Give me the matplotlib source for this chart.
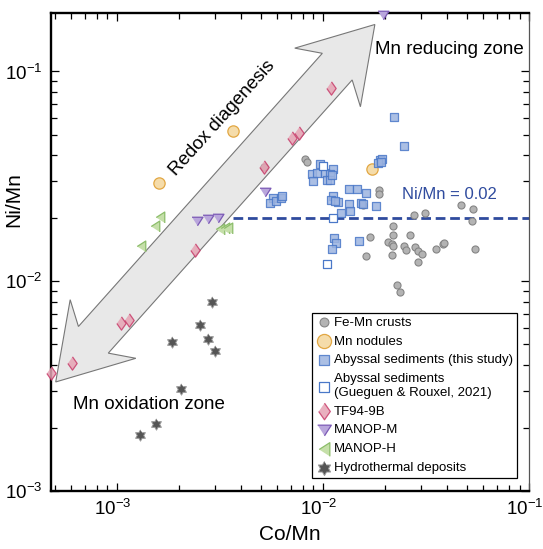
"""Ni/Mn vs Co/Mn cross-plot with redox diagenesis arrow"""

import matplotlib

matplotlib.use("Agg")
import matplotlib.pyplot as plt
import numpy as np
from matplotlib.patches import Polygon
from matplotlib.transforms import ScaledTranslation

plt.rcParams["font.family"] = ["Liberation Sans", "DejaVu Sans"]
plt.rcParams["mathtext.fontset"] = "custom"
plt.rcParams["mathtext.rm"] = "Liberation Sans"
plt.rcParams["axes.unicode_minus"] = False

# Fe-Mn crusts
crust_co = [0.00818, 0.00834, 0.01877, 0.01877, 0.01569, 0.02764, 0.03117, 0.04676,
            0.05328, 0.05268, 0.02194, 0.02194, 0.01691, 0.02644, 0.02075, 0.02156,
            0.02180, 0.02171, 0.01617, 0.02472, 0.02520, 0.02796, 0.02901, 0.03025,
            0.02882, 0.03536, 0.03813, 0.03869, 0.05467, 0.02279, 0.02364, 0.00517]
crust_ni = [0.0384, 0.0370, 0.0271, 0.0260, 0.0232, 0.0208, 0.0211, 0.0232,
            0.0220, 0.0194, 0.0183, 0.0166, 0.0163, 0.0166, 0.0154, 0.0151,
            0.0148, 0.0134, 0.0132, 0.0147, 0.0141, 0.0146, 0.0139, 0.0135,
            0.0123, 0.0142, 0.0150, 0.0152, 0.0142, 0.0096, 0.0089, 0.0350]

# Mn nodules
nodule_co = [0.003645, 0.00160, 0.01729]
nodule_ni = [0.0520, 0.0295, 0.0343]

# Abyssal sediments (this study)
sed_co = [0.02219, 0.02481, 0.01891, 0.01928, 0.01855, 0.01912, 0.00967, 0.01122,
          0.00887, 0.00932, 0.00897, 0.01023, 0.01081, 0.01042, 0.01081, 0.01102,
          0.005738, 0.00553, 0.005894, 0.006253, 0.006302, 0.01342, 0.01467, 0.01617,
          0.01122, 0.01093, 0.01179, 0.01144, 0.01337, 0.01529, 0.01569, 0.01802,
          0.01223, 0.01352, 0.01131, 0.01160, 0.01102, 0.01495]
sed_ni = [0.0606, 0.0440, 0.0377, 0.0384, 0.0366, 0.0370, 0.0361, 0.0344,
          0.0326, 0.0328, 0.0300, 0.0328, 0.0326, 0.0303, 0.0305, 0.0320,
          0.0248, 0.0236, 0.0241, 0.0250, 0.0254, 0.0276, 0.0276, 0.0262,
          0.0254, 0.0243, 0.0239, 0.0241, 0.0233, 0.0236, 0.0233, 0.0229,
          0.0211, 0.0216, 0.0160, 0.0152, 0.0143, 0.0156]

# Abyssal sediments (Gueguen & Rouxel, 2021)
gr_co = [0.01003, 0.01122, 0.01042]
gr_ni = [0.0353, 0.0200, 0.0121]

# TF94-9B
tf_co = [0.01093, 0.00705, 0.00767, 0.00517, 0.002391, 0.001054, 0.001147, 0.00061, 0.000478]
tf_ni = [0.0836, 0.0481, 0.0508, 0.0350, 0.01405, 0.00629, 0.00657, 0.00406, 0.00366]

# MANOP-M
manm_co = [0.01956, 0.005231, 0.002464, 0.002774, 0.003102]
manm_ni = [0.185, 0.0266, 0.0193, 0.0197, 0.0200]

# MANOP-H
manh_co = [0.00163, 0.001529, 0.003162, 0.003344, 0.00347, 0.001318]
manh_ni = [0.0202, 0.0183, 0.0178, 0.0180, 0.0180, 0.0148]

# Hydrothermal deposits
hyd_co = [0.002891, 0.002529, 0.002774, 0.0030, 0.001856, 0.002052, 0.001546, 0.001297]
hyd_ni = [0.00797, 0.00619, 0.00528, 0.00466, 0.00512, 0.00307, 0.00209, 0.00184]

# reference line and arrow end points (Co/Mn, Ni/Mn)
ni_mn_ref = 0.02
ref_start = 0.00365
arrow_low = (5.06e-4, 3.31e-3)
arrow_high = (0.01788, 0.1675)

# marker shapes
diamond = [(0, 1), (0.7, 0), (0, -1), (-0.7, 0)]
tri_down = [(-1, 0.78), (1, 0.78), (0, -0.78)]
tri_left = [(-0.78, 0), (0.78, 1), (0.78, -1)]
ang = np.deg2rad(90 + 30 * np.arange(12))
rad = np.where(np.arange(12) % 2 == 0, 1.0, 0.577)
hexagram = list(zip(rad * np.cos(ang), rad * np.sin(ang)))

fig = plt.figure(figsize=(5.43, 5.49), dpi=100)
ax = fig.add_axes([51 / 543, 58 / 549, 478 / 543, 478 / 549])
ax.set_xscale("log")
ax.set_yscale("log")
ax.set_xlim(4.8e-4, 0.1)
ax.set_ylim(1e-3, 0.19)


def double_arrow(ax, start, end, shaft_w, head_w, head_len, notch_len):
    # two-headed block arrow with swept-back barbs, sizes in pixels
    p0 = ax.transData.transform(start)
    p1 = ax.transData.transform(end)
    u = (p1 - p0) / np.hypot(*(p1 - p0))
    n = np.array([-u[1], u[0]])
    pts = [
        p0,
        p0 + u * head_len + n * head_w / 2,
        p0 + u * notch_len + n * shaft_w / 2,
        p1 - u * notch_len + n * shaft_w / 2,
        p1 - u * head_len + n * head_w / 2,
        p1,
        p1 - u * head_len - n * head_w / 2,
        p1 - u * notch_len - n * shaft_w / 2,
        p0 + u * notch_len - n * shaft_w / 2,
        p0 + u * head_len - n * head_w / 2,
    ]
    pts = ax.transAxes.inverted().transform(np.array(pts))
    ax.add_patch(Polygon(pts, closed=True, transform=ax.transAxes, fc="#e8e8e8",
                         ec="#777777", lw=0.8, zorder=1, clip_on=False))


double_arrow(ax, arrow_low, arrow_high, 40, 88, 71, 56.5)

ax.plot([ref_start, 0.1], [ni_mn_ref, ni_mn_ref], color="#2f4b9e", lw=2,
        ls=(0, (3.5, 1.7)), zorder=2)

kw = dict(clip_on=False, zorder=3)
ax.scatter(crust_co, crust_ni, s=26, marker="o", fc="#b3b3b3", ec="#858585", lw=0.8,
           label="Fe-Mn crusts", **kw)
ax.scatter(nodule_co, nodule_ni, s=66, marker="o", fc="#f5dcaa", ec="#e2a743", lw=0.9,
           label="Mn nodules", **kw)
ax.scatter(sed_co, sed_ni, s=34, marker="s", fc="#9db4e0", ec="#4a78c8", lw=0.9,
           alpha=0.85, label="Abyssal sediments (this study)", **kw)
ax.scatter(gr_co, gr_ni, s=34, marker="s", fc="white", ec="#4a78c8", lw=0.9,
           label="Abyssal sediments\n(Gueguen & Rouxel, 2021)", **kw)
ax.scatter(tf_co, tf_ni, s=92, marker=diamond, fc="#e6a3b4", ec="#c83d6b", lw=0.9,
           alpha=0.85, label="TF94-9B", **kw)
ax.scatter(manm_co, manm_ni, s=62, marker=tri_down, fc="#b9a6dc", ec="#7b59b5", lw=0.9,
           label="MANOP-M", **kw)
ax.scatter(manh_co, manh_ni, s=62, marker=tri_left, fc="#c5dfa9", ec="#8cbd6a", lw=0.9,
           label="MANOP-H", **kw)
ax.scatter(hyd_co, hyd_ni, s=66, marker=hexagram, fc="#555555", ec="#9a9a9a", lw=0.7,
           label="Hydrothermal deposits", **kw)

ax.text(0.358, 0.780, "Redox diagenesis", transform=ax.transAxes, fontsize=13.5,
        rotation=48, rotation_mode="anchor", ha="center", va="center")
ax.text(0.678, 0.923, "Mn reducing zone", transform=ax.transAxes, fontsize=13.5,
        ha="left", va="center")
ax.text(0.047, 0.182, "Mn oxidation zone", transform=ax.transAxes, fontsize=13.5,
        ha="left", va="center")
ax.text(0.734, 0.621, "Ni/Mn = 0.02", transform=ax.transAxes, fontsize=12,
        color="#2f4b9e", ha="left", va="center")

ax.set_xlabel("Co/Mn", fontsize=15)
ax.set_ylabel("Ni/Mn", fontsize=15)
ax.xaxis.set_label_coords(0.5, -0.071)
ax.yaxis.set_label_coords(-0.059, 0.609)

ax.tick_params(which="both", direction="in", top=True, right=True, width=0.9)
ax.tick_params(which="major", length=6, labelsize=13.5, pad=6)
ax.tick_params(which="minor", length=4)
for side in ["left", "bottom", "top"]:
    ax.spines[side].set_linewidth(1.7)
ax.spines["right"].set_linewidth(0.9)
ax.spines["right"].set_color("#555555")

# nudge x tick labels a little to the left, as in the original
shift = ScaledTranslation(-4 / 100, 0, fig.dpi_scale_trans)
for lbl in ax.get_xticklabels():
    lbl.set_transform(lbl.get_transform() + shift)

leg = ax.legend(loc="lower right", bbox_to_anchor=(0.975, 0.027), borderaxespad=0,
                fontsize=9.5, frameon=True, fancybox=False, framealpha=1,
                edgecolor="black", borderpad=0.3, labelspacing=0.5,
                handletextpad=0.2, handlelength=1.2, markerscale=1.25)
leg.get_frame().set_linewidth(0.9)

plt.savefig("out.png", dpi=100)
